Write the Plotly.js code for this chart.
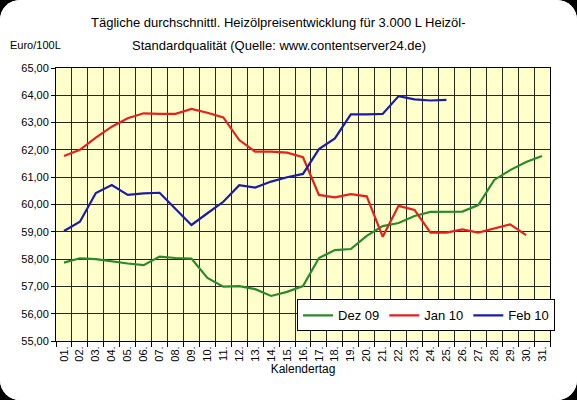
<html><head>
    <meta charset="utf8"/>
    <title>Heizoelpreise</title>
    <style>
        * {
            margin: 0px;
            padding: 0px
        }
        body {
            background: #000000;
            width: 577px;
            height: 400px;
            overflow: hidden
        }
        #chart {
            width: 577px;
            height: 400px;
            border-radius: 20px;
            overflow: hidden;
            background: #ffffff
        }
    </style>
    <script src="https://cdn.plot.ly/plotly-3.0.1.min.js"></script>
</head><body>
    <div id="chart"></div>
    <script>
    var days = ['01.', '02.', '03.', '04.', '05.', '06.', '07.', '08.', '09.', '10.',
        '11.', '12.', '13.', '14.', '15.', '16.', '17.', '18.', '19.', '20.',
        '21.', '22.', '23.', '24.', '25.', '26.', '27.', '28.', '29.', '30.', '31.'];

    var dez09 = [57.87, 58.03, 58.00, 57.91, 57.84, 57.78, 58.09, 58.04, 58.02, 57.31,
        56.99, 57.01, 56.90, 56.65, 56.80, 57.01, 58.04, 58.33, 58.37, 58.85,
        59.21, 59.32, 59.58, 59.73, 59.74, 59.74, 59.98, 60.90, 61.26, 61.56, 61.78];

    var jan10 = [61.78, 62.00, 62.45, 62.85, 63.16, 63.34, 63.32, 63.32, 63.50, 63.36,
        63.19, 62.36, 61.94, 61.94, 61.90, 61.73, 60.35, 60.26, 60.38, 60.30,
        58.82, 59.95, 59.80, 58.97, 58.97, 59.09, 58.97, 59.13, 59.27, 58.88];

    var feb10 = [59.03, 59.37, 60.42, 60.71, 60.35, 60.41, 60.43, 59.82, 59.25, 59.68,
        60.10, 60.71, 60.62, 60.84, 61.00, 61.12, 62.03, 62.42, 63.30, 63.30,
        63.32, 63.97, 63.85, 63.81, 63.83];

    var seriesNames = ['Dez 09', 'Jan 10', 'Feb 10'];
    var yTicks = [55, 56, 57, 58, 59, 60, 61, 62, 63, 64, 65];
    var titleLines = ['Tägliche durchschnittl. Heizölpreisentwicklung für 3.000 L Heizöl-',
        'Standardqualität (Quelle: www.contentserver24.de)'];

    var font = 'Liberation Sans, Arial, sans-serif';

    function line(vals, name, color) {
        return {
            x: days.slice(0, vals.length),
            y: vals,
            name: name,
            type: 'scatter',
            mode: 'lines',
            line: {color: color, width: 2.2, shape: 'linear'},
            hoverinfo: 'skip'
        };
    }

    var traces = [
        line(dez09, seriesNames[0], '#2a8a2a'),
        line(jan10, seriesNames[1], '#e6201c'),
        line(feb10, seriesNames[2], '#1c1caa')
    ];

    function label(text, x, y, anchor, size) {
        return {
            text: text,
            xref: 'paper',
            yref: 'paper',
            x: x,
            y: y,
            xanchor: anchor,
            yanchor: 'middle',
            showarrow: false,
            font: {family: font, size: size, color: '#000000'}
        };
    }

    var layout = {
        width: 577,
        height: 400,
        margin: {l: 56, r: 27, t: 68, b: 59},
        paper_bgcolor: '#ffffff',
        plot_bgcolor: '#ffffcc',
        separators: ',.',
        font: {family: font, size: 11, color: '#000000'},
        showlegend: true,
        legend: {
            orientation: 'h',
            x: 0.488,
            xanchor: 'left',
            y: 0.035,
            yanchor: 'bottom',
            bgcolor: '#ffffff',
            bordercolor: '#000000',
            borderwidth: 1,
            font: {family: font, size: 13, color: '#000000'},
            traceorder: 'normal'
        },
        xaxis: {
            type: 'category',
            categoryorder: 'array',
            categoryarray: days,
            range: [-0.5, 30.5],
            tickson: 'boundaries',
            ticks: 'outside',
            ticklen: 5,
            tickcolor: '#000000',
            tickangle: -90,
            tickfont: {family: font, size: 11, color: '#000000'},
            showgrid: true,
            gridcolor: '#26261a',
            gridwidth: 1,
            showline: true,
            linecolor: '#000000',
            linewidth: 1,
            mirror: true,
            fixedrange: true,
            title: {text: 'Kalendertag', font: {family: font, size: 12, color: '#000000'}, standoff: 2}
        },
        yaxis: {
            range: [55, 65],
            tickvals: yTicks,
            tickformat: '.2f',
            ticks: 'outside',
            ticklen: 4,
            tickcolor: '#000000',
            tickfont: {family: font, size: 11, color: '#000000'},
            showgrid: true,
            gridcolor: '#26261a',
            gridwidth: 1,
            zeroline: false,
            showline: true,
            linecolor: '#000000',
            linewidth: 1,
            mirror: true,
            fixedrange: true
        },
        annotations: [
            label(titleLines[0], 0.451, 1.168, 'center', 13),
            label(titleLines[1], 0.451, 1.084, 'center', 13),
            label('Euro/100L', -0.097, 1.084, 'left', 11)
        ]
    };

    Plotly.newPlot('chart', traces, layout, {displayModeBar: false, staticPlot: true});
    </script>
</body></html>
